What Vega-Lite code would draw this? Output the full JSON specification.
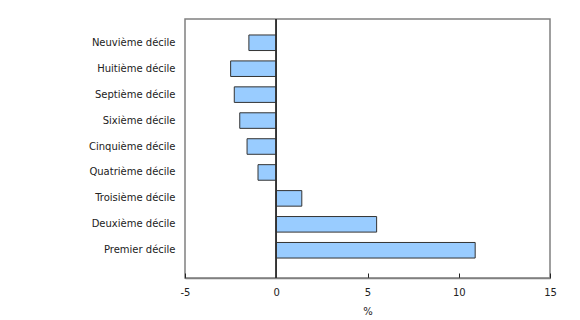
{
  "$schema": "https://vega.github.io/schema/vega-lite/v6.json",
  "autosize": {"type": "none"},
  "padding": {"left": 185, "top": 19, "right": 30, "bottom": 42},
  "width": 365,
  "height": 259,
  "config": {
    "font": "DejaVu Sans",
    "view": {"stroke": "#808080", "strokeWidth": 1.5},
    "axis": {"labelFont": "DejaVu Sans", "titleFont": "DejaVu Sans", "labelColor": "#222222", "titleColor": "#222222", "labelFontSize": 10, "titleFontSize": 10, "titleFontWeight": "normal", "grid": false}
  },
  "data": {"values": [
    {"categorie": "Neuvième décile", "valeur": -1.5},
    {"categorie": "Huitième décile", "valeur": -2.5},
    {"categorie": "Septième décile", "valeur": -2.3},
    {"categorie": "Sixième décile", "valeur": -2.0},
    {"categorie": "Cinquième décile", "valeur": -1.6},
    {"categorie": "Quatrième décile", "valeur": -1.0},
    {"categorie": "Troisième décile", "valeur": 1.4},
    {"categorie": "Deuxième décile", "valeur": 5.5},
    {"categorie": "Premier décile", "valeur": 10.9}
  ]},
  "layer": [
    {
      "mark": {"type": "bar", "fill": "#99CCFF", "stroke": "#333333", "strokeWidth": 1},
      "encoding": {
        "y": {"field": "categorie", "type": "nominal", "sort": null,
              "scale": {"range": [3, 252], "paddingInner": 0.4, "paddingOuter": 0.5},
              "axis": {"title": null, "ticks": false, "domain": false, "labelPadding": 10, "labelFontSize": 10}},
        "x": {"field": "valeur", "type": "quantitative",
              "scale": {"domain": [-5, 15], "nice": false, "zero": false},
              "axis": {"title": "%", "values": [-5, 0, 5, 10, 15], "tickSize": -5, "tickColor": "#222222", "domainColor": "#808080", "domainWidth": 1.5, "labelPadding": 14, "titlePadding": 9, "labelFlush": false, "labelExpr": "replace(datum.label, '−', '-')"}}
      }
    },
    {
      "mark": {"type": "rule", "color": "#333333", "strokeWidth": 1},
      "encoding": {"x": {"datum": 0, "type": "quantitative"}}
    }
  ]
}
